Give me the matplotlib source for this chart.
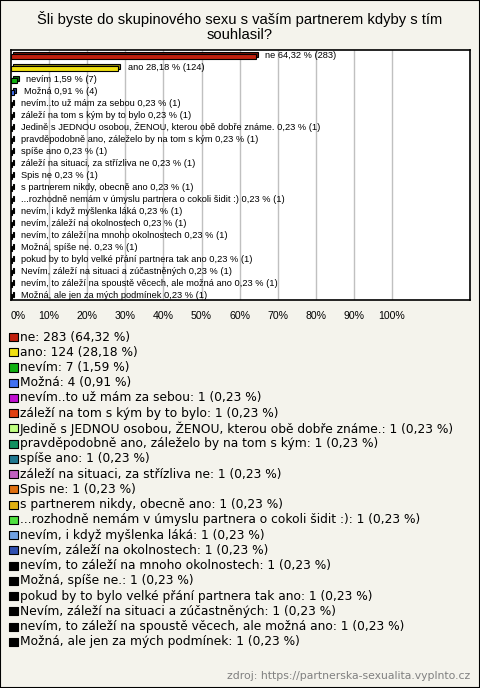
#!/usr/bin/env python3
"""Survey bar chart: group sex with partner question (vyplnto.cz style)."""

import matplotlib

matplotlib.use("Agg")
import matplotlib.pyplot as plt
from matplotlib.patches import Rectangle

W, H = 480, 688
BG = "#f4f3ec"

TITLE = "Šli byste do skupinového sexu s vaším partnerem kdyby s tím\nsouhlasil?"
SOURCE = "zdroj: https://partnerska-sexualita.vyplnto.cz"

answers = [
    "ne",
    "ano",
    "nevím",
    "Možná",
    "nevím..to už mám za sebou",
    "záleží na tom s kým by to bylo",
    "Jedině s JEDNOU osobou, ŽENOU, kterou obě dobře známe.",
    "pravděpodobně ano, záleželo by na tom s kým",
    "spíše ano",
    "záleží na situaci, za střízliva ne",
    "Spis ne",
    "s partnerem nikdy, obecně ano",
    "...rozhodně nemám v úmyslu partnera o cokoli šidit :)",
    "nevím, i když myšlenka láká",
    "nevím, záleží na okolnostech",
    "nevím, to záleží na mnoho okolnostech",
    "Možná, spíše ne.",
    "pokud by to bylo velké přání partnera tak ano",
    "Nevím, záleží na situaci a zúčastněných",
    "nevím, to záleží na spoustě věcech, ale možná ano",
    "Možná, ale jen za mých podmínek",
]
counts = [283, 124, 7, 4] + [1] * 17
percents = [64.32, 28.18, 1.59, 0.91] + [0.23] * 17
colors = [
    "#c0200e", "#f0e010", "#10b010", "#4070f0", "#c010d0", "#e04010",
    "#c0ff80", "#109060", "#207890", "#c060c0", "#e07010", "#e0b010",
    "#50e040", "#70a0e0", "#3050b0",
] + ["#000000"] * 6
x_ticks = list(range(0, 101, 10))


def fmt(v: float) -> str:
    return f"{v:.2f}".replace(".", ",")


def darker(c: str, f: float = 0.6) -> tuple:
    rgb = matplotlib.colors.to_rgb(c)
    return tuple(v * f for v in rgb)


def fx(x: float) -> float:
    return x / W


def fy(y: float) -> float:
    return 1 - y / H


fig = plt.figure(figsize=(W / 100, H / 100), dpi=100)
fig.patch.set_facecolor(BG)
fig.patches.append(Rectangle((0, 0), 1, 1, transform=fig.transFigure, fill=False,
                             edgecolor="#000000", linewidth=1.5))

fig.text(fx(240), fy(26.5), TITLE, ha="center", va="center", fontsize=10.6,
         family="Liberation Sans", linespacing=1.12)

# bar chart area
left, right, top, bottom = 11, 470, 50, 300
ax = fig.add_axes([fx(left), fy(bottom), fx(right - left), (bottom - top) / H])
ax.set_facecolor("white")
px_per_pct = 3.81
ax.set_xlim(0, (right - left) / px_per_pct)
row_px = 11.48
n = len(answers)
ax.set_ylim(n - 1 + 3.5 / row_px, -6 / row_px)
for t in x_ticks[1:]:
    ax.axvline(t, color="#c0c0c0", linewidth=1, zorder=0)
ax.set_xticks([])
ax.set_yticks([])
for s in ax.spines.values():
    s.set_linewidth(1.2)

dx = 2 / px_per_pct
dy = 2 / row_px
bh = 5 / row_px
ys = list(range(n))
ax.barh([y - dy for y in ys], percents, left=dx, height=bh,
        color=[darker(c) for c in colors], edgecolor="#000000", linewidth=0.8, zorder=2)
ax.barh(ys, percents, height=bh, color=colors, edgecolor="#000000",
        linewidth=0.8, zorder=3)
for y, name, p, c in zip(ys, answers, percents, counts):
    ax.text(p + 2.4, y - 0.1, f"{name} {fmt(p)} % ({c})", fontsize=6.65,
            family="Liberation Sans", va="center", ha="left", zorder=4)

for t in x_ticks:
    fig.text(fx(left + t * px_per_pct + (7 if t == 0 else 0)), fy(316), f"{t}%",
             ha="center", va="center", fontsize=7.6, family="Liberation Sans")

# legend area
ltop, lstep = 337, 15.24
lax = fig.add_axes([0, 0, 1, 1], facecolor="none")
lax.set_xlim(0, W)
lax.set_ylim(H, 0)
lax.axis("off")
lys = [ltop + i * lstep for i in range(n)]
lax.scatter([13.5] * n, lys, s=34, marker="s", c=colors, edgecolors="#000000",
            linewidths=0.8)
for y, name, p, c in zip(lys, answers, percents, counts):
    lax.text(20, y, f"{name}: {c} ({fmt(p)} %)", fontsize=8.85, family="DejaVu Sans",
             va="center", ha="left")

fig.text(fx(470), fy(676), SOURCE, ha="right", va="center", fontsize=7.8,
         family="DejaVu Sans", color="#808080")

fig.savefig("out.png", dpi=100, facecolor=BG)
